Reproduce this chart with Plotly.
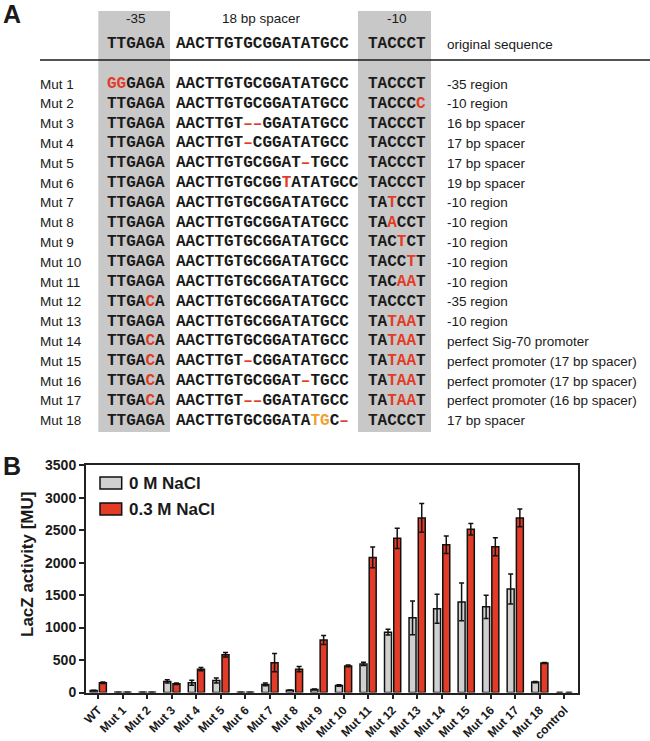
import re
import plotly.graph_objects as go

# ---------------- data: panel B ----------------
categories = ["WT", "Mut 1", "Mut 2", "Mut 3", "Mut 4", "Mut 5", "Mut 6", "Mut 7", "Mut 8",
              "Mut 9", "Mut 10", "Mut 11", "Mut 12", "Mut 13", "Mut 14", "Mut 15", "Mut 16",
              "Mut 17", "Mut 18", "control"]
nacl_0 = [30, 4, 2, 170, 150, 185, 2, 125, 35, 45, 108, 440, 930, 1150, 1290, 1395, 1320, 1595, 160, 0]
nacl_0_err = [6, 0, 0, 25, 40, 40, 0, 20, 5, 8, 10, 25, 45, 260, 225, 290, 180, 230, 8, 0]
nacl_03 = [150, 2, 5, 135, 360, 580, 4, 460, 360, 810, 410, 2080, 2375, 2690, 2275, 2515, 2245, 2690, 455, 0]
nacl_03_err = [10, 0, 0, 10, 25, 35, 0, 140, 40, 70, 12, 160, 155, 220, 135, 90, 140, 135, 8, 0]
series_names = ["0 M NaCl", "0.3 M NaCl"]
y_ticks = [0, 500, 1000, 1500, 2000, 2500, 3000, 3500]

# ---------------- data: panel A ----------------
header_titles = ["-35", "18 bp spacer", "-10"]
original_seq = ["TTGAGA", "AACTTGTGCGGATATGCC", "TACCCT", "original sequence"]
row_labels = [f"Mut {i}" for i in range(1, 19)]
# [..] = red mutation, {..} = orange mutation
box_35 = ["[GG]GAGA", "TTGAGA", "TTGAGA", "TTGAGA", "TTGAGA", "TTGAGA", "TTGAGA", "TTGAGA", "TTGAGA",
          "TTGAGA", "TTGAGA", "TTGA[C]A", "TTGAGA", "TTGA[C]A", "TTGA[C]A", "TTGA[C]A", "TTGA[C]A", "TTGAGA"]
spacers = ["AACTTGTGCGGATATGCC", "AACTTGTGCGGATATGCC", "AACTTGT[––]GGATATGCC", "AACTTGT[–]CGGATATGCC",
           "AACTTGTGCGGAT[–]TGCC", "AACTTGTGCGG[T]ATATGCC", "AACTTGTGCGGATATGCC", "AACTTGTGCGGATATGCC",
           "AACTTGTGCGGATATGCC", "AACTTGTGCGGATATGCC", "AACTTGTGCGGATATGCC", "AACTTGTGCGGATATGCC",
           "AACTTGTGCGGATATGCC", "AACTTGTGCGGATATGCC", "AACTTGT[–]CGGATATGCC", "AACTTGTGCGGAT[–]TGCC",
           "AACTTGT[––]GGATATGCC", "AACTTGTGCGGATA{TG}C[–]"]
box_10 = ["TACCCT", "TACCC[C]", "TACCCT", "TACCCT", "TACCCT", "TACCCT", "TA[T]CCT", "TA[A]CCT", "TAC[T]CT",
          "TACC[T]T", "TAC[AA]T", "TACCCT", "TA[TAA]T", "TA[TAA]T", "TA[TAA]T", "TA[TAA]T", "TA[TAA]T", "TACCCT"]
descriptions = ["-35 region", "-10 region", "16 bp spacer", "17 bp spacer", "17 bp spacer", "19 bp spacer",
                "-10 region", "-10 region", "-10 region", "-10 region", "-10 region", "-35 region",
                "-10 region", "perfect Sig-70 promoter", "perfect promoter (17 bp spacer)",
                "perfect promoter (17 bp spacer)", "perfect promoter (16 bp spacer)", "17 bp spacer"]

# ---------------- styles ----------------
RED = "#e23b27"
ORANGE = "#f0a030"
GRAY_BAR = "#d0d0d0"
BOX_GRAY = "#c8c8c8"
INK = "#1a1a1a"
SANS = "Liberation Sans, Arial, sans-serif"
MONO = "Liberation Mono, Courier New, monospace"


def markup(s):
    s = re.sub(r"\[([^\]]+)\]", lambda m: f"<span style='color:{RED}'>{m.group(1)}</span>", s)
    s = re.sub(r"\{([^}]+)\}", lambda m: f"<span style='color:{ORANGE}'>{m.group(1)}</span>", s)
    return s


W, H = 650, 741
fig = go.Figure()

# bar chart
fig.add_bar(x=categories, y=nacl_0, name=series_names[0],
            marker=dict(color=GRAY_BAR, line=dict(color="#111", width=1.5)),
            error_y=dict(type="data", array=nacl_0_err, color="#111", thickness=1.5, width=2.5))
fig.add_bar(x=categories, y=nacl_03, name=series_names[1],
            marker=dict(color=RED, line=dict(color="#111", width=1.5)),
            error_y=dict(type="data", array=nacl_03_err, color="#111", thickness=1.5, width=2.5))

# invisible trace to create a pixel-space overlay axis for panel A & labels
fig.add_scatter(x=[0, W], y=[0, H], xaxis="x2", yaxis="y2", mode="markers",
                marker=dict(opacity=0), hoverinfo="skip", showlegend=False)

plot_top, plot_bottom = 465.3, 692.5
plot_left, plot_right = 86, 578.3

annotations = []
shapes = []

# panel A: grey boxes
col35 = (98.3, 170)
col10 = (358, 431)
for (x0, x1) in (col35, col10):
    shapes.append(dict(type="rect", xref="x2", yref="y2", x0=x0, x1=x1, y0=11, y1=432,
                       fillcolor=BOX_GRAY, line=dict(width=0), layer="below"))
shapes.append(dict(type="line", xref="x2", yref="y2", x0=40, x1=650, y0=60, y1=60,
                   line=dict(color=INK, width=1.5)))

x35_c = 135.5
x_sp = 174
x10_c = 396.5
x_desc = 445
x_lab = 38

def ann(x, y, text, size, family=SANS, xanchor="center", weight=400, color=INK, angle=0):
    annotations.append(dict(x=x, y=y, xref="x2", yref="y2", text=text, showarrow=False,
                            xanchor=xanchor, yanchor="middle", textangle=angle,
                            font=dict(family=family, size=size, color=color, weight=weight)))

ann(12, 14, "A", 25, weight=700)
ann(12, 466, "B", 25, weight=700)

ann(x35_c, 18, header_titles[0], 13.5)
ann(261, 18, header_titles[1], 13.5)
ann(x10_c, 18, header_titles[2], 13.5)
ann(x35_c, 44, original_seq[0], 16, MONO, weight=700)
ann(x_sp, 44, original_seq[1], 16, MONO, xanchor="left", weight=700)
ann(x10_c, 44, original_seq[2], 16, MONO, weight=700)
ann(x_desc, 44, original_seq[3], 13.5, xanchor="left")

row0, drow = 84, 19.8
for i in range(len(row_labels)):
    y = row0 + i * drow
    ann(x_lab, y, row_labels[i], 13.5, xanchor="left")
    ann(x35_c, y, markup(box_35[i]), 16, MONO, weight=700)
    ann(x_sp, y, markup(spacers[i]), 16, MONO, xanchor="left", weight=700)
    ann(x10_c, y, markup(box_10[i]), 16, MONO, weight=700)
    ann(x_desc, y, descriptions[i], 13.5, xanchor="left")

# y-axis title
ann(27, 565, "LacZ activity [MU]", 17, weight=700, angle=-90)

# custom legend
for k, (name, col) in enumerate(zip(series_names, [GRAY_BAR, RED])):
    yc = 483 + k * 26
    shapes.append(dict(type="rect", xref="x2", yref="y2", x0=100, x1=121.7, y0=yc - 6, y1=yc + 6,
                       fillcolor=col, line=dict(color="#111", width=1.5)))
    ann(127, yc, name, 17, xanchor="left", weight=700)

fig.update_layout(
    width=W, height=H,
    margin=dict(l=0, r=0, t=0, b=0, pad=0, autoexpand=False),
    paper_bgcolor="white", plot_bgcolor="rgba(0,0,0,0)",
    barmode="group", bargap=0.25, bargroupgap=0.24,
    showlegend=False,
    font=dict(family=SANS, color=INK),
    annotations=annotations,
    shapes=shapes,
    xaxis=dict(domain=[plot_left / W, plot_right / W], type="category", range=[-0.5, 19.57],
               tickangle=-45, ticks="outside", ticklen=4, tickwidth=1.5, tickcolor="#222",
               showline=True, linecolor="#222", linewidth=2, mirror=True, showgrid=False,
               automargin=False,
               tickfont=dict(family=SANS, size=12, color=INK, weight=700), anchor="y"),
    yaxis=dict(domain=[(H - plot_bottom) / H, (H - plot_top) / H], range=[0, 3500],
               tickvals=y_ticks, ticks="outside", ticklen=5, tickwidth=1.5, tickcolor="#222",
               showline=True, linecolor="#222", linewidth=2, mirror=True, showgrid=False,
               automargin=False,
               zeroline=False, tickfont=dict(family=SANS, size=14, color=INK, weight=700), anchor="x"),
    xaxis2=dict(domain=[0, 1], range=[0, W], visible=False, anchor="y2", fixedrange=True,
                automargin=False),
    yaxis2=dict(domain=[0, 1], range=[H, 0], visible=False, anchor="x2", fixedrange=True,
                automargin=False),
)

fig.write_html("out.html", config={"displayModeBar": False},
               post_script="document.body.style.margin='0';document.body.style.overflow='hidden';")
